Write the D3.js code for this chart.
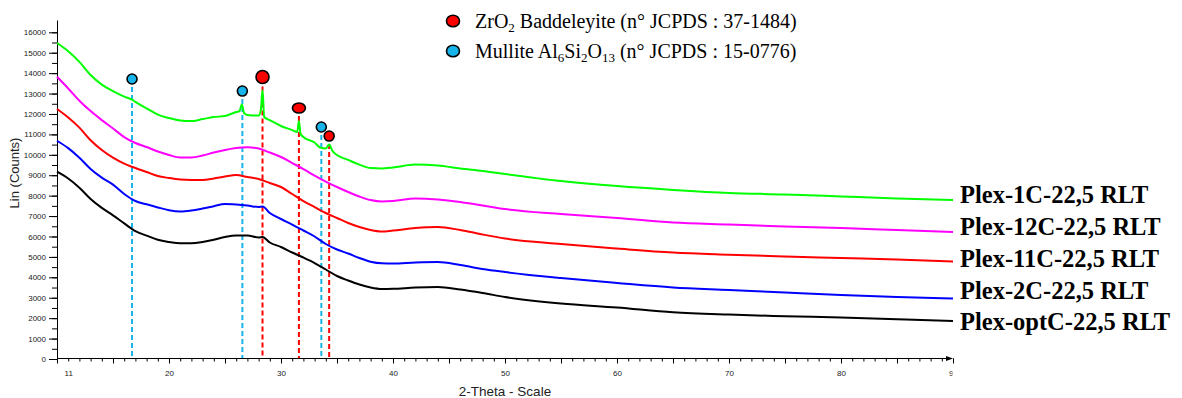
<!DOCTYPE html>
<html><head><meta charset="utf-8">
<script src="https://cdn.jsdelivr.net/npm/d3@7"></script>
<style>html,body{margin:0;padding:0;background:#fff;}svg{display:block;}</style>
</head><body>
<svg id="chart" width="1182" height="398"></svg>
<script>
// ---- data ----
const twoTheta = [10,11,12,13,14,15,16,17,18,19,20,21,22,23,24,25,26,27,28,29,30,31,32,33,34,35,36,37,38,39,40,42,44,46,48,50,55,60,65,70,75,80,85,90];
const seriesNames = ["Plex-1C-22,5 RLT","Plex-12C-22,5 RLT","Plex-11C-22,5 RLT","Plex-2C-22,5 RLT","Plex-optC-22,5 RLT"];
const plex1C  = [15475,15070,14550,13910,13440,13120,12850,12590,12270,11970,11800,11680,11650,11750,11850,11900,12100,11950,11920,11700,11410,11210,10870,10600,10310,9990,9750,9520,9350,9330,9380,9520,9480,9330,9210,9060,8720,8470,8280,8130,8060,7960,7860,7790];
const plex12C = [13820,13250,12650,12140,11700,11290,10870,10580,10380,10160,9990,9867,9867,9965,10112,10235,10333,10367,10308,10112,9892,9598,9304,8986,8692,8423,8178,7958,7786,7713,7737,7860,7811,7688,7517,7346,7101,6905,6685,6586,6488,6415,6317,6219];
const plex11C = [12243,11826,11331,10715,10235,9858,9564,9353,9157,8962,8864,8790,8766,8766,8839,8937,9010,8913,8815,8619,8423,8080,7737,7443,7150,6905,6660,6464,6317,6244,6293,6415,6464,6317,6097,5901,5632,5411,5215,5108,5020,4946,4873,4775];
const plex2C  = [10690,10328,9858,9309,8883,8540,8080,7737,7576,7424,7287,7223,7272,7370,7483,7590,7566,7517,7443,7150,6856,6586,6293,5999,5632,5362,5166,4946,4765,4686,4677,4726,4750,4603,4407,4260,3967,3722,3501,3379,3256,3134,3036,2963];
const plexOpt = [9172,8839,8389,7840,7404,7037,6640,6258,6043,5837,5729,5666,5666,5729,5837,5974,6048,6048,5950,5705,5485,5215,4970,4701,4383,4065,3844,3648,3501,3428,3438,3501,3526,3403,3232,3036,2718,2522,2287,2174,2096,2032,1949,1861];
// sharp reflections on the Plex-1C pattern
const peakAngles1C = [16.7,26.3,26.5,26.7,28.2,28.35,28.5,31.45,31.6,31.75,33.5,34.3,34.6];
const peakCounts1C = [12700,12145,12463,12047,12194,13173,11851,11116,11655,11018,10357,10504,10186];
// small bump at 28.35 on Plex-2C and Plex-optC
const bumpAngle = [28.35];
const bump2C = [7470];
const bumpOpt = [5980];
// phase markers
const markerAngles = [16.7, 26.55, 28.35, 31.6, 33.6, 34.3];
const markerPhase  = ["M","M","Z","Z","M","Z"];
const markerCounts = [13712, 13124, 13810, 12291, 11361, 10920];
const yTicks = d3.range(0, 16001, 1000);
const yMinorTicks = d3.range(0, 16001, 500);
const xLabelTicks = [11,20,30,40,50,60,70,80,90];
const xMajorTicks = d3.range(10, 91, 5);
const xMinorTicks = d3.range(10, 91, 1);

// ---- drawing ----
const colors = ["#00ff00","#ff00ff","#ff0000","#0000ff","#000000"];
const phaseColor = {Z:"#ff0000", M:"#16b4ea"};
const markerR = [[5,5],[5,5],[6.5,6.5],[6.5,5],[5,5],[5,5]];

const svg = d3.select("#chart");
const x = d3.scaleLinear().domain([10, 90]).range([57, 953]);
const y = d3.scaleLinear().domain([0, 16000]).range([359, 32.3]);

function mk(vals, extraA, extraV){
  const pts = twoTheta.map((t,i)=>[t, vals[i]]);
  if (extraA) extraA.forEach((a,i)=>pts.push([a, extraV[i]]));
  pts.sort((a,b)=>a[0]-b[0]);
  return pts;
}
const data = [
  mk(plex1C, peakAngles1C, peakCounts1C),
  mk(plex12C),
  mk(plex11C),
  mk(plex2C, bumpAngle, bump2C),
  mk(plexOpt, bumpAngle, bumpOpt)
];

// Axes
const axisFont = "'Liberation Sans', Arial, sans-serif";
const yMinor = svg.append("g").attr("transform","translate(57,0)")
  .call(d3.axisLeft(y).tickValues(yMinorTicks).tickSize(5).tickFormat(""));
const yMajor = svg.append("g").attr("transform","translate(57,0)")
  .call(d3.axisLeft(y).tickValues(yTicks).tickSize(8).tickPadding(3).tickFormat(d3.format("d")));
[yMinor, yMajor].forEach(g=>{ g.select(".domain").remove(); });
yMajor.selectAll("text").attr("font-family", axisFont).attr("font-size", 8).attr("fill","#222");
svg.append("line").attr("x1",57.5).attr("x2",57.5).attr("y1",20.5).attr("y2",359).attr("stroke","#000").attr("stroke-width",1);

const xMinor = svg.append("g").attr("transform","translate(0,358.5)")
  .call(d3.axisBottom(x).tickValues(xMinorTicks).tickSize(3).tickFormat(""));
const xMajor = svg.append("g").attr("transform","translate(0,358.5)")
  .call(d3.axisBottom(x).tickValues(xMajorTicks).tickSize(5).tickFormat(""));
svg.append("defs").append("clipPath").attr("id","xclip").append("rect")
  .attr("x",0).attr("y",0).attr("width",952.5).attr("height",398);
const xLab = svg.append("g").attr("transform","translate(0,358.5)").attr("clip-path","url(#xclip)")
  .call(d3.axisBottom(x).tickValues(xLabelTicks).tickSize(0).tickPadding(12).tickFormat(d3.format("d")));
[xMinor, xMajor, xLab].forEach(g=>g.select(".domain").remove());
xLab.selectAll("text").attr("font-family", axisFont).attr("font-size", 8).attr("fill","#222");
svg.selectAll(".tick line").attr("stroke","#000");
svg.append("line").attr("x1",57).attr("x2",951).attr("y1",358.5).attr("y2",358.5).attr("stroke","#000");
svg.append("path").attr("d","M946,356 L953,358.5 L946,361 Z").attr("fill","#000");

// axis titles
svg.append("text").attr("transform","translate(19,173) rotate(-90)")
  .attr("text-anchor","middle").attr("font-family",axisFont).attr("font-size",13).attr("fill","#222")
  .text("Lin (Counts)");
svg.append("text").attr("x",505).attr("y",396).attr("text-anchor","middle")
  .attr("font-family",axisFont).attr("font-size",13.5).attr("fill","#222").text("2-Theta - Scale");

// dashed reference lines
markerAngles.forEach((a,i)=>{
  const top = y(markerCounts[i]) + markerR[i][1] + 3;
  svg.append("line").attr("x1",x(a)).attr("x2",x(a)).attr("y1",top).attr("y2",358)
    .attr("stroke",phaseColor[markerPhase[i]]).attr("stroke-width",2).attr("stroke-dasharray","5,3");
});

// curves
const line = d3.line().x(d=>x(d[0])).y(d=>y(d[1])).curve(d3.curveMonotoneX);
data.forEach((pts,i)=>{
  svg.append("path").attr("d", line(pts)).attr("fill","none")
    .attr("stroke", colors[i]).attr("stroke-width", 2).attr("stroke-linejoin","round");
});

// markers
markerAngles.forEach((a,i)=>{
  svg.append("ellipse").attr("cx",x(a)).attr("cy",y(markerCounts[i]))
    .attr("rx",markerR[i][0]).attr("ry",markerR[i][1])
    .attr("fill",phaseColor[markerPhase[i]]).attr("stroke","#000").attr("stroke-width",1.6);
});

// series labels
const serif = "'Liberation Serif','Times New Roman',serif";
const labelY = [203, 235, 267, 298.5, 330];
seriesNames.forEach((n,i)=>{
  svg.append("text").attr("x",960).attr("y",labelY[i]).attr("font-family",serif)
    .attr("font-weight","bold").attr("font-size",24.5).attr("fill","#000").text(n);
});

// phase legend
const legY = [21, 51];
["Z","M"].forEach((p,i)=>{
  svg.append("ellipse").attr("cx",453).attr("cy",legY[i]).attr("rx",6.5).attr("ry",5.8)
    .attr("fill",phaseColor[p]).attr("stroke","#000").attr("stroke-width",1.6);
});
function legendText(yPos, parts){
  const t = svg.append("text").attr("x",475).attr("y",yPos).attr("font-family",serif)
    .attr("font-size",20).attr("fill","#000");
  parts.forEach(p=>{
    const s = t.append("tspan").text(p[0]);
    if (p[1]) s.attr("font-size",13).attr("dy",4); else s.attr("dy", p[2]||0);
  });
}
legendText(27.5, [["ZrO"],["2",true],[" Baddeleyite (n° JCPDS : 37-1484)",false,-4]]);
legendText(57.5, [["Mullite Al"],["6",true],["Si",false,-4],["2",true],["O",false,-4],["13",true],[" (n° JCPDS : 15-0776)",false,-4]]);
</script>
</body></html>
